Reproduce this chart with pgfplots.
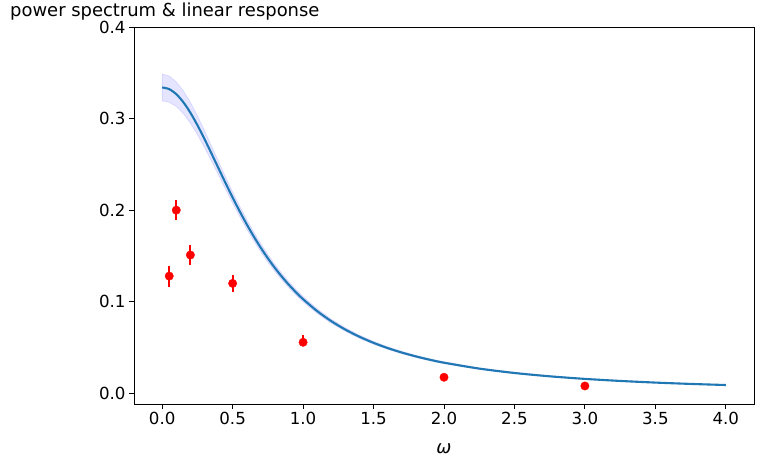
\documentclass[border=0pt]{standalone}
\usepackage{pgfplots}
\pgfplotsset{compat=1.18}
\usepackage{pgfplotstable}
\usepackage{fontspec}
\setmainfont{DejaVu Sans}
\definecolor{mplblue}{HTML}{1F77B4}

% response curve (w, f)
\pgfplotstableread{
w     f
0.00  0.33400
0.05  0.33213
0.10  0.32665
0.15  0.31791
0.20  0.30642
0.25  0.29282
0.30  0.27775
0.35  0.26183
0.40  0.24559
0.45  0.22945
0.50  0.21376
0.55  0.19873
0.60  0.18453
0.65  0.17123
0.70  0.15886
0.75  0.14742
0.80  0.13689
0.85  0.12721
0.90  0.11833
0.95  0.11021
1.00  0.10277
1.10  0.08972
1.20  0.07877
1.30  0.06955
1.40  0.06174
1.50  0.05509
1.60  0.04941
1.70  0.04452
1.80  0.04029
1.90  0.03661
2.00  0.03340
2.25  0.02696
2.50  0.02217
2.75  0.01854
3.00  0.01572
3.25  0.01349
3.50  0.01169
3.75  0.01023
4.00  0.00903
}\curvetab

% measured power spectrum
\pgfplotstableread{
w     y       ep      em
0.05  0.128   0.0115  0.0115
0.10  0.200   0.011   0.011
0.20  0.151   0.011   0.011
0.50  0.120   0.009   0.009
1.00  0.0557  0.008   0.004
2.00  0.0175  0.003   0.003
3.00  0.0080  0.003   0.003
}\spectab

\begin{document}
\begin{tikzpicture}
\begin{axis}[
    at={(134bp,63bp)}, anchor=south west,
    scale only axis, width=620bp, height=377bp,
    xmin=-0.2, xmax=4.2, ymin=-0.0117, ymax=0.4,
    xtick={0,0.5,1,1.5,2,2.5,3,3.5,4},
    ytick={0,0.1,0.2,0.3,0.4},
    xticklabel style={/pgf/number format/fixed, /pgf/number format/fixed zerofill, /pgf/number format/precision=1},
    yticklabel style={/pgf/number format/fixed, /pgf/number format/fixed zerofill, /pgf/number format/precision=1},
    /pgf/number format/assume math mode=true,
    tick pos=left, tick align=outside,
    major tick length=5bp,
    every tick/.style={black, line width=0.9bp},
    axis line style={line width=0.9bp},
    ticklabel style={font=\fontsize{16.7}{19}\selectfont},
    xlabel={\itshape ω},
    xlabel style={font=\fontsize{18}{20}\selectfont, anchor=base,
                  at={(axis description cs:0.5,0)}, yshift=-49bp}]

    % uncertainty band: upper edge forward, lower edge back
    \addplot[fill=blue, fill opacity=0.1, draw=blue, draw opacity=0.1, line width=0.8bp]
        coordinates {
        (0.00,0.34870) (0.05,0.34641) (0.10,0.34004) (0.15,0.33031) (0.20,0.31776)
        (0.25,0.30307) (0.30,0.28692) (0.35,0.26995) (0.40,0.25296) (0.45,0.23610)
        (0.50,0.21975) (0.55,0.20429) (0.60,0.18970) (0.65,0.17602) (0.70,0.16331)
        (0.75,0.15155) (0.80,0.14072) (0.85,0.13077) (0.90,0.12164) (0.95,0.11330)
        (1.00,0.10565) (1.10,0.09223) (1.20,0.08098) (1.30,0.07150) (1.40,0.06347)
        (1.50,0.05663) (1.60,0.05079) (1.70,0.04577) (1.80,0.04142) (1.90,0.03764)
        (2.00,0.03434) (2.25,0.02771) (2.50,0.02279) (2.75,0.01906) (3.00,0.01616)
        (3.25,0.01387) (3.50,0.01202) (3.75,0.01052) (4.00,0.00928)
        (4.00,0.00878) (3.75,0.00994) (3.50,0.01136) (3.25,0.01311) (3.00,0.01528)
        (2.75,0.01802) (2.50,0.02155) (2.25,0.02621) (2.00,0.03246) (1.90,0.03558)
        (1.80,0.03916) (1.70,0.04327) (1.60,0.04803) (1.50,0.05355) (1.40,0.06001)
        (1.30,0.06760) (1.20,0.07656) (1.10,0.08721) (1.00,0.09989) (0.95,0.10712)
        (0.90,0.11502) (0.85,0.12365) (0.80,0.13306) (0.75,0.14329) (0.70,0.15441)
        (0.65,0.16644) (0.60,0.17936) (0.55,0.19317) (0.50,0.20777) (0.45,0.22280)
        (0.40,0.23822) (0.35,0.25371) (0.30,0.26858) (0.25,0.28257) (0.20,0.29508)
        (0.15,0.30551) (0.10,0.31326) (0.05,0.31785) (0.00,0.31930)
        } -- cycle;

    \addplot[mplblue, line width=2.1bp, smooth] table[x=w, y=f] {\curvetab};

    \addplot[red, only marks, mark=*, mark size=4.2bp,
             error bars/.cd, y dir=both, y explicit, error mark=none,
             error bar style={red, line width=2.1bp}]
        table[x=w, y=y, y error plus=ep, y error minus=em] {\spectab};
\end{axis}
\node[anchor=base west, inner sep=0pt, font=\fontsize{18}{21}\selectfont]
    at (10bp,450.5bp) {power spectrum \& linear response};
\path (0,0) rectangle (764bp,467bp);
\end{tikzpicture}
\end{document}
